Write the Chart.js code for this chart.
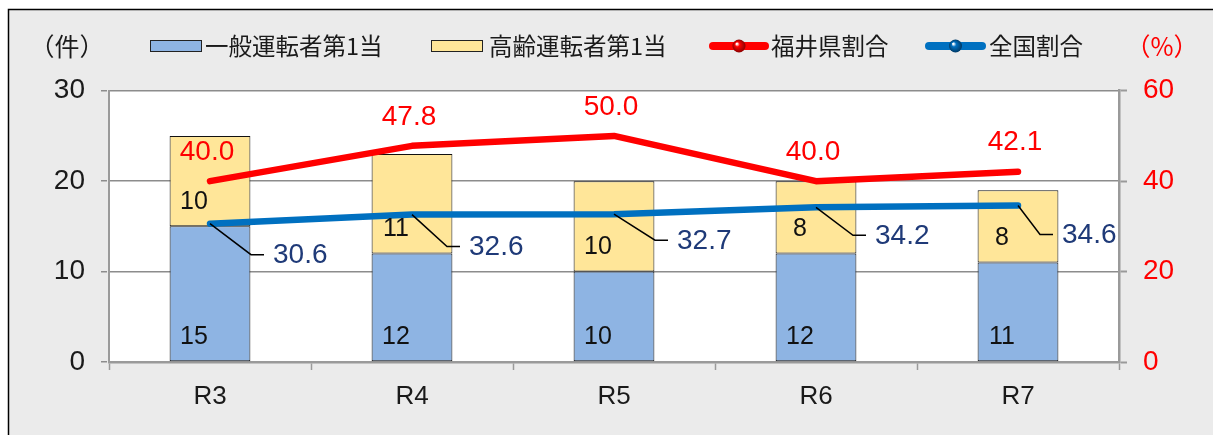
<!DOCTYPE html>
<html><head><meta charset="utf-8">
<script src="https://cdn.jsdelivr.net/npm/chart.js@4/dist/chart.umd.min.js"></script>
<style>html,body{margin:0;padding:0;background:#fff;overflow:hidden}#wrap{width:1213px;height:435px}</style>
</head><body><div id="wrap"><canvas id="c" width="1213" height="435"></canvas></div>
<script>
const categories = ['R3', 'R4', 'R5', 'R6', 'R7'];
const generalDrivers = [15, 12, 10, 12, 11];
const elderlyDrivers = [10, 11, 10, 8, 8];
const fukuiRatio = [40.0, 47.8, 50.0, 40.0, 42.1];
const nationalRatio = [30.6, 32.6, 32.7, 34.2, 34.6];
const leftTicks = [0, 10, 20, 30];
const rightTicks = [0, 20, 40, 60];
const seriesNames = ['一般運転者第1当', '高齢運転者第1当', '福井県割合', '全国割合'];
const leftUnit = '（件）';
const rightUnit = '（%）';

const NUM_FONT = "'Liberation Sans', 'Noto Sans CJK JP', sans-serif";
const JP_FONT = "'Noto Sans CJK JP', 'Liberation Sans', sans-serif";
const C_BLUE_BAR = '#8eb4e3';
const C_YELLOW_BAR = '#ffe699';
const C_RED = '#ff0000';
const C_BLUE_LINE = '#0070c0';
const C_NAVY = '#1f3a78';
const C_GRID = '#8c8c8c';
const C_AXIS = '#9a9a9a';

// leader offsets for national-ratio labels (styling)
const leaderDx = [41, 35, 41, 37, 22];
const leaderDy = [31, 32, 26, 28, 29];

const bgPlugin = {
  id: 'bg',
  beforeDraw(chart) {
    const ctx = chart.ctx;
    ctx.save();
    ctx.fillStyle = '#ffffff';
    ctx.fillRect(0, 0, chart.width, chart.height);
    ctx.fillStyle = '#ebebeb';
    ctx.fillRect(8, 9, chart.width - 8, chart.height - 9);
    ctx.strokeStyle = '#000';
    ctx.lineWidth = 1.5;
    ctx.beginPath();
    ctx.moveTo(8.5, chart.height);
    ctx.lineTo(8.5, 9.5);
    ctx.lineTo(chart.width, 9.5);
    ctx.stroke();
    const a = chart.chartArea;
    ctx.fillStyle = '#ffffff';
    ctx.fillRect(a.left, a.top, a.right - a.left, a.bottom - a.top);
    ctx.restore();
  }
};

function sphere(ctx, x, y, r, base, dark) {
  const g = ctx.createRadialGradient(x - r * 0.35, y - r * 0.35, r * 0.1, x, y, r);
  g.addColorStop(0, '#ffffff');
  g.addColorStop(0.3, base);
  g.addColorStop(1, dark);
  ctx.fillStyle = g;
  ctx.beginPath();
  ctx.arc(x, y, r, 0, Math.PI * 2);
  ctx.fill();
}

const legendPlugin = {
  id: 'customLegend',
  afterDraw(chart) {
    const ctx = chart.ctx;
    const ds = chart.data.datasets;
    const cy = 46;
    ctx.save();
    ctx.textBaseline = 'middle';
    ctx.font = '25px ' + JP_FONT;
    ctx.fillStyle = '#1a1a1a';
    // units
    ctx.textAlign = 'center';
    ctx.fillText(leftUnit, 67, cy);
    ctx.fillStyle = C_RED;
    ctx.fillText(rightUnit, 1162, cy);
    ctx.textAlign = 'left';
    ctx.font = '23.5px ' + JP_FONT;
    // bar items
    const boxes = [[150, 205], [431, 489]];
    for (let i = 0; i < 2; i++) {
      const [bx, tx] = boxes[i];
      ctx.fillStyle = ds[i].backgroundColor;
      ctx.fillRect(bx, cy - 6, 52, 12);
      ctx.strokeStyle = '#222';
      ctx.lineWidth = 1;
      ctx.strokeRect(bx + 0.5, cy - 5.5, 51, 11);
      ctx.fillStyle = '#1a1a1a';
      ctx.fillText(ds[i].label, tx, cy);
    }
    // line items
    const lines = [[713, 765, 771, '#8a0000'], [929, 982, 989, '#003a66']];
    for (let i = 0; i < 2; i++) {
      const [x1, x2, tx, dark] = lines[i];
      const d = ds[i + 2];
      ctx.strokeStyle = d.borderColor;
      ctx.lineWidth = 8;
      ctx.lineCap = 'round';
      ctx.beginPath();
      ctx.moveTo(x1, cy);
      ctx.lineTo(x2, cy);
      ctx.stroke();
      sphere(ctx, (x1 + x2) / 2, cy, 6.5, d.borderColor, dark);
      ctx.fillStyle = '#1a1a1a';
      ctx.fillText(d.label, tx, cy);
    }
    ctx.restore();
  }
};

const labelPlugin = {
  id: 'labels',
  afterDatasetsDraw(chart) {
    const ctx = chart.ctx;
    ctx.save();
    // bar labels (inside base)
    ctx.font = '25px ' + NUM_FONT;
    ctx.fillStyle = '#111';
    ctx.textAlign = 'center';
    ctx.textBaseline = 'middle';
    [0, 1].forEach(di => {
      const meta = chart.getDatasetMeta(di);
      meta.data.forEach((el, j) => {
        const v = chart.data.datasets[di].data[j];
        ctx.fillText(String(v), el.x - 16, el.base - 24);
      });
    });
    // Fukui labels above
    ctx.font = '28px ' + NUM_FONT;
    ctx.fillStyle = C_RED;
    chart.getDatasetMeta(2).data.forEach((el, j) => {
      ctx.fillText(chart.data.datasets[2].data[j].toFixed(1), el.x - 3, el.y - 29);
    });
    // national labels with leader lines
    ctx.textAlign = 'left';
    chart.getDatasetMeta(3).data.forEach((el, j) => {
      const dx = leaderDx[j], dy = leaderDy[j];
      ctx.strokeStyle = '#000';
      ctx.lineWidth = 1.5;
      ctx.beginPath();
      ctx.moveTo(el.x, el.y);
      ctx.lineTo(el.x + dx, el.y + dy);
      ctx.lineTo(el.x + dx + 13, el.y + dy);
      ctx.stroke();
      ctx.fillStyle = C_NAVY;
      ctx.fillText(chart.data.datasets[3].data[j].toFixed(1), el.x + dx + 22, el.y + dy + 1);
    });
    ctx.restore();
  }
};

new Chart(document.getElementById('c'), {
  data: {
    labels: categories,
    datasets: [
      { type: 'bar', label: seriesNames[0], data: generalDrivers, backgroundColor: C_BLUE_BAR,
        borderColor: '#111', borderWidth: 1, borderSkipped: false, yAxisID: 'y', stack: 's', order: 2,
        barPercentage: 0.4, categoryPercentage: 1 },
      { type: 'bar', label: seriesNames[1], data: elderlyDrivers, backgroundColor: C_YELLOW_BAR,
        borderColor: '#111', borderWidth: 1, borderSkipped: false, yAxisID: 'y', stack: 's', order: 2,
        barPercentage: 0.4, categoryPercentage: 1 },
      { type: 'line', label: seriesNames[2], data: fukuiRatio, borderColor: C_RED, backgroundColor: C_RED,
        borderWidth: 6.5, pointRadius: 0, borderCapStyle: 'round', borderJoinStyle: 'round', tension: 0,
        yAxisID: 'y2', order: 1 },
      { type: 'line', label: seriesNames[3], data: nationalRatio, borderColor: C_BLUE_LINE, backgroundColor: C_BLUE_LINE,
        borderWidth: 6.5, pointRadius: 0, borderCapStyle: 'round', borderJoinStyle: 'round', tension: 0,
        yAxisID: 'y2', order: 0 }
    ]
  },
  options: {
    responsive: false,
    animation: false,
    devicePixelRatio: 1,
    layout: { padding: { top: 90.7, left: 0, right: 0, bottom: 0 } },
    plugins: { legend: { display: false }, tooltip: { enabled: false } },
    scales: {
      x: {
        stacked: true,
        offset: true,
        grid: { display: true, offset: true, drawOnChartArea: false, tickLength: 8, color: C_AXIS, tickColor: C_AXIS, tickWidth: 1.5 },
        border: { display: true, color: C_AXIS, width: 2.5 },
        ticks: { font: { size: 26, family: NUM_FONT }, color: '#1a1a1a', padding: 11 },
        afterFit(s) { s.height = 73; }
      },
      y: {
        stacked: true,
        position: 'left',
        min: 0, max: 30,
        afterBuildTicks(s) { s.ticks = leftTicks.map(v => ({ value: v })); },
        grid: { color: (c) => c.tick && c.tick.value === 0 ? 'rgba(0,0,0,0)' : C_GRID, lineWidth: 1.5,
                borderDash: [6, 3], tickBorderDash: [6, 3], tickLength: 8, tickColor: C_GRID },
        border: { display: true, color: C_AXIS, width: 2 },
        ticks: { font: { size: 28, family: NUM_FONT }, color: '#1a1a1a', padding: 16 },
        afterFit(s) { s.width = 109; }
      },
      y2: {
        position: 'right',
        min: 0, max: 60,
        afterBuildTicks(s) { s.ticks = rightTicks.map(v => ({ value: v })); },
        grid: { drawOnChartArea: false, tickLength: 8, tickColor: C_AXIS, tickWidth: 2 },
        border: { display: true, color: C_AXIS, width: 2.5 },
        ticks: { font: { size: 28, family: NUM_FONT }, color: C_RED, padding: 16 },
        afterFit(s) { s.width = 94; }
      }
    }
  },
  plugins: [bgPlugin, legendPlugin, labelPlugin]
});
</script>
</body></html>
